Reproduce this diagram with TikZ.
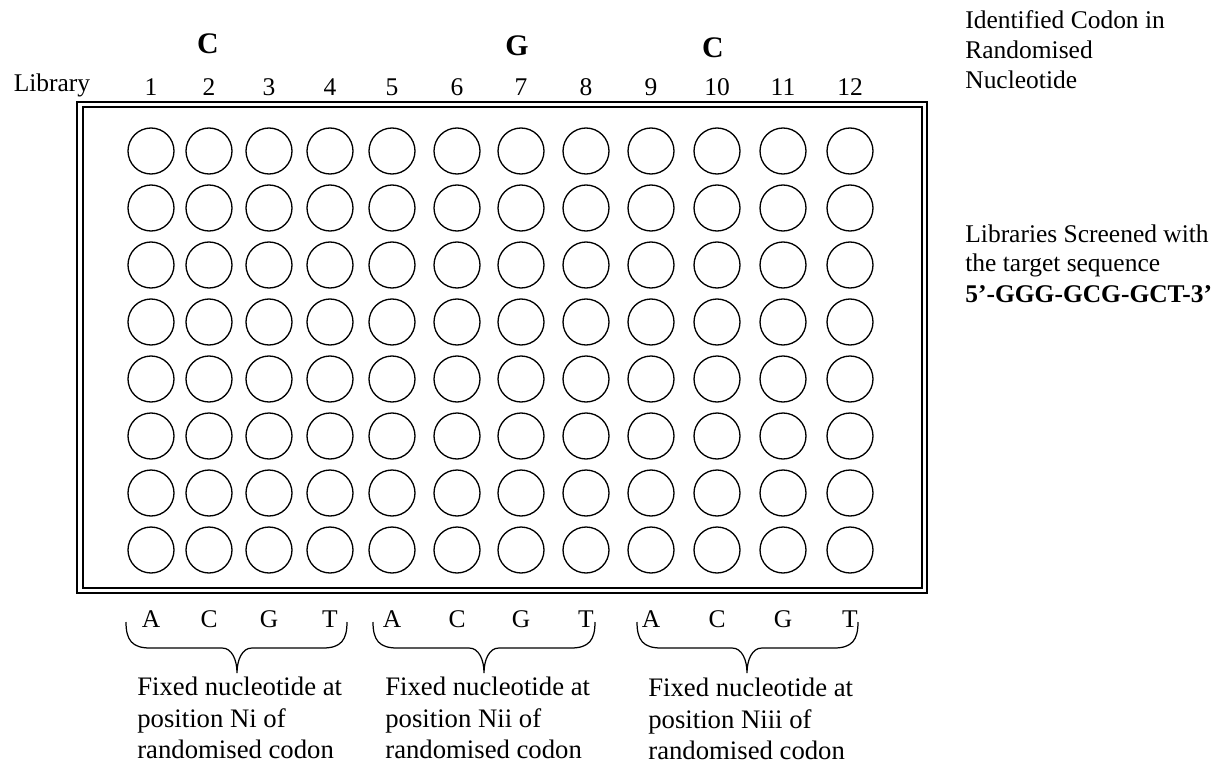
\documentclass[tikz,border=0pt]{standalone}
\usepackage{fontspec}
\setmainfont{Liberation Serif}
\usetikzlibrary{positioning}

\begin{document}
\begin{tikzpicture}[x=0.02cm,y=-0.02cm,font=\fontsize{14.5}{17.5}\selectfont]
\tikzset{well/.style={draw,circle,line width=0.75pt,minimum size=0.92cm,inner sep=0pt}, plate/.style={draw,line width=1pt}, codon/.style={font=\fontsize{17}{20}\selectfont\bfseries}, txt/.style={align=left,anchor=north west,inner sep=0pt}, note/.style={txt,font=\fontsize{15.2}{17.8}\selectfont}, brc/.style={draw,line width=0.7pt}}
\useasboundingbox (0,0) rectangle (1223,764);
\draw[plate] (77,102) rectangle (927,593);
\draw[plate] (83,107) rectangle (922,588);
\node (lib) at (52,85) {Library};
\foreach \c/\x/\t in {1/151/A,2/209/C,3/269/G,4/330/T,5/392/A,6/457/C,7/521/G,8/586/T,9/651/A,10/717/C,11/783/G,12/850/T}{
  \node (n\c) at (\x,87) {\c};
  \node (b\c) at (\x,619) {\t};
  \foreach \r in {1,...,8} \node[well] (w\r-\c) at ({\x},{151+57*(\r-1)}) {};
}
\node[codon] (k1) at (208,44) {C};
\node[codon] (k2) at (517,46) {G};
\node[codon] (k3) at (713,48) {C};
\foreach \a/\m/\b in {126/237/347,373/484/595,637/747/858}
  \draw[brc] (\a,622) .. controls (\a,640) and ({\a+6},648) .. ({\a+24},648) -- ({\m-15},648) .. controls ({\m-5},648) and (\m,660) .. (\m,673) .. controls (\m,660) and ({\m+5},648) .. ({\m+15},648) -- ({\b-24},648) .. controls ({\b-6},648) and (\b,640) .. (\b,622);
\node[note] (f1) at (137,677) {Fixed nucleotide at\\position Ni of\\randomised codon};
\node[note] (f2) at (385,677) {Fixed nucleotide at\\position Nii of\\randomised codon};
\node[note] (f3) at (648,678) {Fixed nucleotide at\\position Niii of\\randomised codon};
\node[txt,font=\fontsize{14.5}{17}\selectfont] (id) at (965,10) {Identified Codon in\\Randomised\\Nucleotide};
\node[txt,font=\fontsize{14.5}{16.8}\selectfont] (ls) at (965,224) {Libraries Screened with\\the target sequence\\[1pt]\textbf{5'-GGG-GCG-GCT-3'}};
\end{tikzpicture}
\end{document}
